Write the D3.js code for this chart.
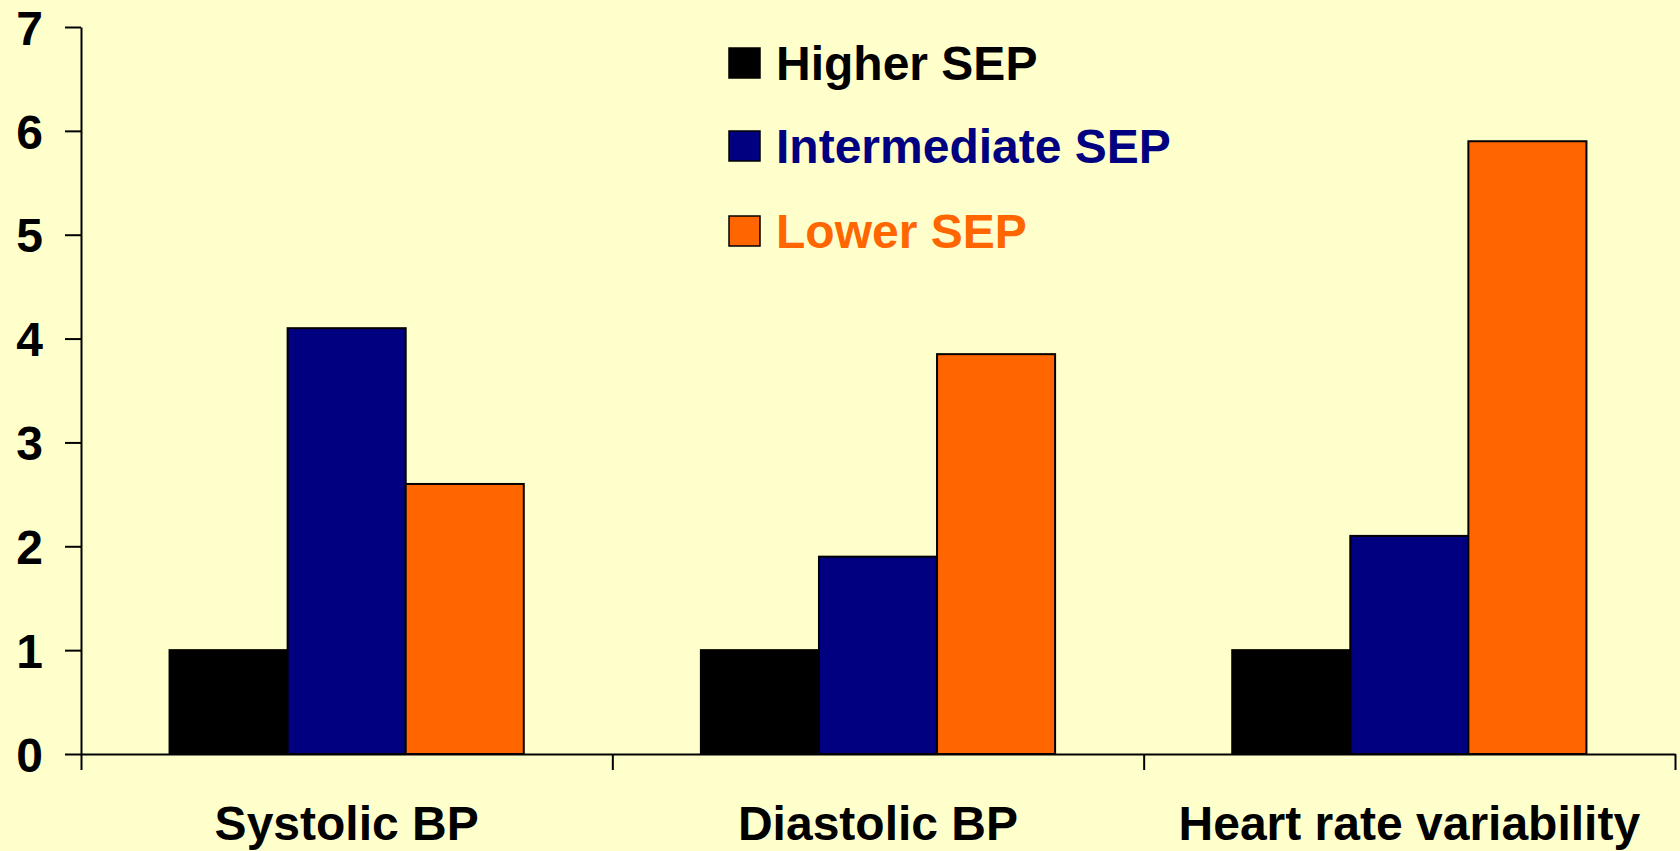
<!DOCTYPE html>
<html>
<head>
<meta charset="utf-8">
<script src="https://cdn.jsdelivr.net/npm/d3@7"></script>
<style>
  html, body { margin: 0; padding: 0; background: #FFFFCC; }
  svg { display: block; }
  text { font-family: "Liberation Sans", Arial, sans-serif; font-weight: bold; }
</style>
</head>
<body>
<svg id="chart" width="1680" height="851"></svg>
<script>
// Outcome categories along the x axis
const categories = ["Systolic BP", "Diastolic BP", "Heart rate variability"];
// Socioeconomic position groups (series)
const seriesNames = ["Higher SEP", "Intermediate SEP", "Lower SEP"];
const seriesColors = ["#000000", "#000080", "#FF6600"];
// Values per series, in category order
const higherSEP = [1, 1, 1];
const intermediateSEP = [4.1, 1.9, 2.1];
const lowerSEP = [2.6, 3.85, 5.9];
const yTicks = [0, 1, 2, 3, 4, 5, 6, 7];

const seriesValues = [higherSEP, intermediateSEP, lowerSEP];

const svg = d3.select("#chart");
const plotLeft = 81, plotRight = 1675, plotTop = 27, plotBottom = 754;
const fontSize = 48;

const y = d3.scaleLinear().domain([0, 7]).range([plotBottom, plotTop]);
const x0 = d3.scaleBand().domain(categories).range([plotLeft, plotRight]).paddingInner(0).paddingOuter(0);
const x1 = d3.scaleBand().domain(seriesNames).range([0, x0.bandwidth()]).paddingInner(0).paddingOuter(0.75);
const xEdge = d3.scaleLinear().domain([0, categories.length]).range([plotLeft, plotRight]);

// Bars
const groups = svg.append("g").selectAll("g")
  .data(categories)
  .join("g")
  .attr("transform", d => `translate(${x0(d)},0)`);

groups.selectAll("rect")
  .data((c, ci) => seriesNames.map((s, si) => ({ s, si, v: seriesValues[si][ci] })))
  .join("rect")
  .attr("x", d => x1(d.s))
  .attr("width", x1.bandwidth())
  .attr("y", d => y(d.v))
  .attr("height", d => y(0) - y(d.v))
  .attr("fill", d => seriesColors[d.si])
  .attr("stroke", "#000")
  .attr("stroke-width", 2);

// Y axis
const yAxis = svg.append("g")
  .attr("transform", `translate(${plotLeft},0)`)
  .call(d3.axisLeft(y).tickValues(yTicks).tickFormat(d3.format("d")).tickSize(16).tickSizeOuter(0).tickPadding(22));
yAxis.select(".domain").attr("stroke", "#000").attr("stroke-width", 2);
yAxis.selectAll(".tick line").attr("stroke", "#000").attr("stroke-width", 2);
yAxis.selectAll(".tick text")
  .attr("font-size", fontSize)
  .attr("fill", "#000")
  .attr("dy", "0.36em")
  .style("font-family", "'Liberation Sans', Arial, sans-serif")
  .style("font-weight", "bold");

// X axis with ticks at category boundaries
const xAxis = svg.append("g")
  .attr("transform", `translate(0,${plotBottom})`)
  .call(d3.axisBottom(xEdge).tickValues(d3.range(categories.length + 1)).tickFormat("").tickSize(16).tickSizeOuter(0));
xAxis.select(".domain").attr("stroke", "#000").attr("stroke-width", 2);
xAxis.selectAll(".tick line").attr("stroke", "#000").attr("stroke-width", 2);

// Category labels
svg.append("g").selectAll("text")
  .data(categories)
  .join("text")
  .attr("x", d => x0(d) + x0.bandwidth() / 2)
  .attr("y", 840)
  .attr("text-anchor", "middle")
  .attr("font-size", fontSize)
  .attr("fill", "#000")
  .text(d => d);

// Legend
const legendRows = [80, 163, 248];
const legend = svg.append("g").selectAll("g")
  .data(seriesNames)
  .join("g")
  .attr("transform", (d, i) => `translate(729,${legendRows[i]})`);
legend.append("rect")
  .attr("x", 0).attr("y", -32)
  .attr("width", 31).attr("height", 30)
  .attr("fill", (d, i) => seriesColors[i])
  .attr("stroke", "#000")
  .attr("stroke-width", 1.5);
legend.append("text")
  .attr("x", 47)
  .attr("y", 0)
  .attr("font-size", fontSize)
  .attr("fill", (d, i) => seriesColors[i])
  .text(d => d);
</script>
</body>
</html>
